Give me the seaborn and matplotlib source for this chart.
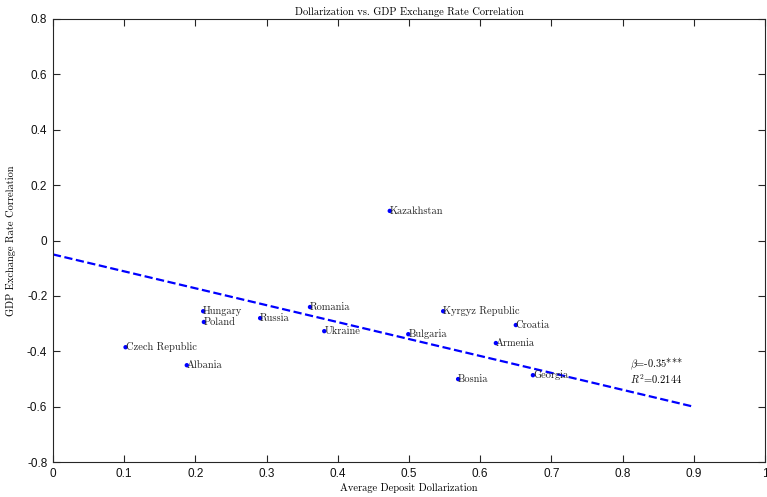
import numpy as np
import pandas as pd
import seaborn as sns
import matplotlib.pyplot as plt

# country data
countries = ['Czech Republic', 'Albania', 'Hungary', 'Poland', 'Russia', 'Romania',
             'Ukraine', 'Kazakhstan', 'Kyrgyz Republic', 'Bulgaria', 'Croatia',
             'Armenia', 'Bosnia', 'Georgia']
dollarization = [0.102, 0.188, 0.211, 0.212, 0.291, 0.361,
                 0.381, 0.473, 0.548, 0.499, 0.650,
                 0.622, 0.569, 0.674]
gdp_fx_corr = [-0.385, -0.450, -0.255, -0.294, -0.280, -0.240,
               -0.327, 0.107, -0.255, -0.338, -0.305,
               -0.370, -0.500, -0.486]

# fitted line as drawn
fit_intercept = -0.05
fit_slope = -0.611
fit_x = [0.0, 0.9]

df = pd.DataFrame({'country': countries, 'x': dollarization, 'y': gdp_fx_corr})
line_df = pd.DataFrame({'x': fit_x, 'y': [fit_intercept + fit_slope * v for v in fit_x]})

plt.rcParams['mathtext.fontset'] = 'cm'
plt.rcParams['axes.unicode_minus'] = False
serif = ['cmr10', 'DejaVu Serif']
sans = ['Liberation Sans', 'DejaVu Sans']

fig = plt.figure(figsize=(7.67, 4.97), dpi=100)
ax = fig.add_axes([0.069, 0.070, 0.9285, 0.892])

sns.lineplot(data=line_df, x='x', y='y', ax=ax, color='#0000ff', linestyle='--',
             linewidth=1.6)
sns.scatterplot(data=df, x='x', y='y', ax=ax, color='#0000ff', s=10,
                edgecolor='none')

for _, r in df.iterrows():
    ax.text(r['x'], r['y'], r['country'], fontsize=7.5, family=serif,
            va='center', ha='left', color='#222222')

ax.text(0.81, -0.445, r'$\beta$=-0.35***', fontsize=7.5, family=serif, va='center')
ax.text(0.81, -0.500, r'$R^2$=0.2144', fontsize=7.5, family=serif, va='center')

ax.set_xlim(0, 1)
ax.set_ylim(-0.8, 0.8)
ax.set_xticks(np.arange(0, 1.01, 0.1))
ax.set_yticks(np.arange(-0.8, 0.81, 0.2))
ax.set_xticklabels(['0', '0.1', '0.2', '0.3', '0.4', '0.5', '0.6', '0.7', '0.8', '0.9', '1'],
                   family=sans, fontsize=8.5)
ax.set_yticklabels(['-0.8', '-0.6', '-0.4', '-0.2', '0', '0.2', '0.4', '0.6', '0.8'],
                   family=sans, fontsize=8.5)
ax.tick_params(direction='in', length=5, width=0.8, top=True, right=True,
               bottom=True, left=True, pad=4, color='#262626', labelcolor='#111111')
for s in ax.spines.values():
    s.set_linewidth(0.8)
    s.set_color('#262626')

ax.set_xlabel('Average Deposit Dollarization', family=serif, fontsize=7.5, labelpad=2)
ax.set_ylabel('GDP Exchange Rate Correlation', family=serif, fontsize=7.5, labelpad=8)
ax.set_title('Dollarization vs. GDP Exchange Rate Correlation', family=serif,
             fontsize=7.5, pad=3)

fig.savefig('out.png', dpi=100)
